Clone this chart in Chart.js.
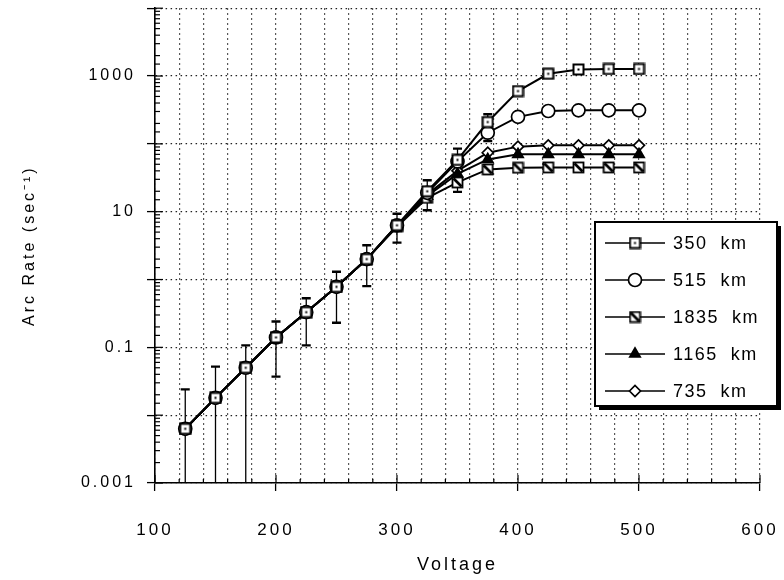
<!DOCTYPE html>
<html>
<head>
<meta charset="utf-8">
<script src="https://cdn.jsdelivr.net/npm/chart.js@4.4.1/dist/chart.umd.min.js"></script>
<style>
  html, body { margin: 0; padding: 0; background: #fff; }
  #wrap { width: 784px; height: 580px; }
</style>
</head>
<body>
<div id="wrap"><canvas id="arcChart" width="784" height="580"></canvas></div>
<script>
const voltage = [125, 150, 175, 200, 225, 250, 275, 300, 325, 350, 375, 400, 425, 450, 475, 500];

const rate350 = [0.0063, 0.018, 0.05, 0.14, 0.33, 0.78, 2.0, 6.3, 20, 58, 210, 600, 1080, 1250, 1270, 1270];
const rate515 = [0.0063, 0.018, 0.05, 0.14, 0.33, 0.78, 2.0, 6.3, 19, 55, 146, 250, 305, 312, 312, 312];
const rate1835 = [0.0063, 0.018, 0.05, 0.14, 0.33, 0.78, 2.0, 6.0, 16, 27, 42, 44.5, 45, 45, 45, 45];
const rate1165 = [0.0063, 0.018, 0.05, 0.14, 0.33, 0.78, 2.0, 6.2, 17, 36, 59, 70, 70, 70, 70, 70];
const rate735 = [0.0063, 0.018, 0.05, 0.14, 0.33, 0.78, 2.0, 6.3, 18, 40, 74, 91, 95, 95, 95, 95];

// error bars (first 11 voltages), low end below 0.001 runs off the axis
const errHigh = [0.024, 0.052, 0.107, 0.24, 0.53, 1.3, 3.2, 9.3, 29, 85, 273];
const errLow = [0.0005, 0.0005, 0.0005, 0.037, 0.107, 0.23, 0.8, 3.5, 10.5, 19.6, 110];

const seriesNames = ["350  km", "515  km", "1835  km", "1165  km", "735  km"];
const xTickLabels = [100, 200, 300, 400, 500, 600];
const yTickLabels = [0.001, 0.1, 10, 1000];

const FONT = "'Liberation Sans', Arial, Helvetica, sans-serif";

function isDecade(v) {
    const l = Math.log10(v);
    return Math.abs(l - Math.round(l)) < 1e-6;
}

function makeMarker(draw) {
    const c = document.createElement("canvas");
    c.width = 13;
    c.height = 13;
    draw(c.getContext("2d"));
    return c;
}

const squareDot = makeMarker(function (g) {
    g.fillStyle = "#fff";
    g.fillRect(1.5, 1.5, 10, 10);
    g.strokeStyle = "#000";
    g.lineWidth = 2;
    g.strokeRect(1.5, 1.5, 10, 10);
    g.fillStyle = "#000";
    g.fillRect(5.5, 5.5, 2, 2);
});

const squareSlash = makeMarker(function (g) {
    g.fillStyle = "#fff";
    g.fillRect(1.5, 1.5, 10, 10);
    g.strokeStyle = "#000";
    g.lineWidth = 1.8;
    g.strokeRect(1.5, 1.5, 10, 10);
    g.lineWidth = 2.6;
    g.beginPath();
    g.moveTo(2.5, 2.5);
    g.lineTo(10.5, 10.5);
    g.stroke();
});

function series(label, values, style) {
    return Object.assign({
        label: label,
        data: voltage.map(function (v, i) { return { x: v, y: values[i] }; }),
        borderColor: "#000",
        borderWidth: 2,
        pointBorderColor: "#000",
        pointBorderWidth: 1.7,
        pointBackgroundColor: "#fff",
        tension: 0
    }, style);
}

const datasets = [
    series(seriesNames[0], rate350, { pointStyle: squareDot, pointRadius: 6, order: -1 }),
    series(seriesNames[1], rate515, { pointStyle: "circle", pointRadius: 6.5 }),
    series(seriesNames[2], rate1835, { pointStyle: squareSlash, pointRadius: 6 }),
    series(seriesNames[3], rate1165, { pointStyle: "triangle", pointRadius: 6, pointBackgroundColor: "#000" }),
    series(seriesNames[4], rate735, { pointStyle: "rectRot", pointRadius: 5.5 })
];

const spacing = {
    id: "spacing",
    beforeLayout(chart) { chart.ctx.letterSpacing = "3px"; },
    beforeDraw(chart) { chart.ctx.letterSpacing = "3px"; }
};

const innerTicks = {
    id: "innerTicks",
    beforeDatasetsDraw(chart) {
        const ctx = chart.ctx;
        const x = chart.scales.x;
        const y = chart.scales.y;
        const area = chart.chartArea;
        ctx.save();
        ctx.strokeStyle = "#000";
        ctx.lineWidth = 1.2;
        y.ticks.forEach(function (t) {
            const py = y.getPixelForValue(t.value);
            const len = isDecade(t.value) ? 8 : 5;
            ctx.beginPath();
            ctx.moveTo(area.left, py);
            ctx.lineTo(area.left + len, py);
            ctx.stroke();
        });
        x.ticks.forEach(function (t) {
            const px = x.getPixelForValue(t.value);
            const len = xTickLabels.includes(t.value) ? 8 : 4;
            ctx.beginPath();
            ctx.moveTo(px, area.bottom);
            ctx.lineTo(px, area.bottom - len);
            ctx.stroke();
        });
        ctx.restore();
    }
};

const errorBars = {
    id: "errorBars",
    beforeDatasetsDraw(chart) {
        const ctx = chart.ctx;
        const area = chart.chartArea;
        const x = chart.scales.x;
        const y = chart.scales.y;
        ctx.save();
        ctx.beginPath();
        ctx.rect(area.left, area.top, area.right - area.left, area.bottom - area.top);
        ctx.clip();
        ctx.strokeStyle = "#000";
        errHigh.forEach(function (hi, i) {
            const px = x.getPixelForValue(voltage[i]);
            const top = y.getPixelForValue(hi);
            const bot = y.getPixelForValue(errLow[i]);
            ctx.lineWidth = 1.3;
            ctx.beginPath();
            ctx.moveTo(px, top);
            ctx.lineTo(px, bot);
            ctx.stroke();
            ctx.lineWidth = 2.4;
            ctx.beginPath();
            ctx.moveTo(px - 4.5, top);
            ctx.lineTo(px + 4.5, top);
            ctx.moveTo(px - 4.5, bot);
            ctx.lineTo(px + 4.5, bot);
            ctx.stroke();
        });
        ctx.restore();
    }
};

const boxLegend = {
    id: "boxLegend",
    afterDraw(chart) {
        const ctx = chart.ctx;
        const left = 595, top = 222, w = 182, h = 184;
        ctx.save();
        ctx.fillStyle = "#000";
        ctx.fillRect(left + 4, top + 4, w, h);
        ctx.fillStyle = "#fff";
        ctx.fillRect(left, top, w, h);
        ctx.strokeStyle = "#000";
        ctx.lineWidth = 2;
        ctx.strokeRect(left, top, w, h);
        ctx.letterSpacing = "1.5px";
        ctx.font = "18px " + FONT;
        ctx.textBaseline = "middle";
        chart.data.datasets.forEach(function (ds, i) {
            const cy = top + 21 + i * 37;
            ctx.strokeStyle = "#000";
            ctx.lineWidth = 1.6;
            ctx.beginPath();
            ctx.moveTo(left + 10, cy);
            ctx.lineTo(left + 70, cy);
            ctx.stroke();
            ctx.fillStyle = ds.pointBackgroundColor;
            ctx.lineWidth = ds.pointBorderWidth;
            Chart.helpers.drawPoint(ctx, {
                pointStyle: ds.pointStyle,
                radius: ds.pointRadius,
                borderWidth: ds.pointBorderWidth,
                rotation: 0
            }, left + 40, cy);
            ctx.fillStyle = "#000";
            ctx.fillText(ds.label, left + 78, cy + 1);
        });
        ctx.restore();
    }
};

new Chart(document.getElementById("arcChart"), {
    type: "line",
    data: { datasets: datasets },
    options: {
        responsive: false,
        animation: false,
        devicePixelRatio: 1,
        layout: { padding: { top: 8, right: 24, left: 0, bottom: 0 } },
        plugins: {
            legend: { display: false },
            tooltip: { enabled: false }
        },
        scales: {
            x: {
                type: "linear",
                min: 100,
                max: 600,
                afterFit: function (s) {
                    s.height = 97;
                    s.paddingLeft = 0;
                    s.paddingRight = 0;
                },
                ticks: {
                    stepSize: 20,
                    autoSkip: false,
                    maxRotation: 0,
                    padding: 29,
                    color: "#000",
                    font: { family: FONT, size: 17 },
                    callback: function (v) { return xTickLabels.includes(v) ? String(v) : ""; }
                },
                grid: {
                    color: "#222",
                    lineWidth: 1.2,
                    tickLength: 8,
                    tickWidth: 1.3,
                    tickColor: function (c) { return c.tick && xTickLabels.includes(c.tick.value) ? "#000" : "rgba(0,0,0,0)"; }
                },
                border: { display: true, color: "#000", width: 1.6, dash: [1.5, 3.5] },
                title: {
                    display: true,
                    text: "Voltage",
                    color: "#000",
                    font: { family: FONT, size: 18 },
                    padding: { top: 0, bottom: 4 }
                }
            },
            y: {
                type: "logarithmic",
                min: 0.001,
                max: 10000,
                afterFit: function (s) {
                    s.width = 155;
                    s.paddingTop = 0;
                    s.paddingBottom = 0;
                },
                ticks: {
                    autoSkip: false,
                    padding: 11,
                    color: "#000",
                    font: { family: FONT, size: 16 },
                    callback: function (v) {
                        const hit = yTickLabels.find(function (t) { return Math.abs(Math.log10(t) - Math.log10(v)) < 1e-6; });
                        return hit !== undefined ? String(hit) : "";
                    }
                },
                grid: {
                    color: function (c) { return c.tick && isDecade(c.tick.value) ? "#222" : "rgba(0,0,0,0)"; },
                    lineWidth: 1.2,
                    tickLength: 8,
                    tickWidth: 1.3,
                    tickColor: function (c) { return c.tick && isDecade(c.tick.value) ? "#000" : "rgba(0,0,0,0)"; }
                },
                border: { display: true, color: "#000", width: 1.6, dash: [1.5, 3.5] },
                title: {
                    display: true,
                    text: "Arc Rate (sec\u207B\u00B9)",
                    color: "#000",
                    font: { family: FONT, size: 16 },
                    padding: { top: 20, bottom: 0 }
                }
            }
        }
    },
    plugins: [spacing, innerTicks, errorBars, boxLegend]
});
</script>
</body>
</html>
